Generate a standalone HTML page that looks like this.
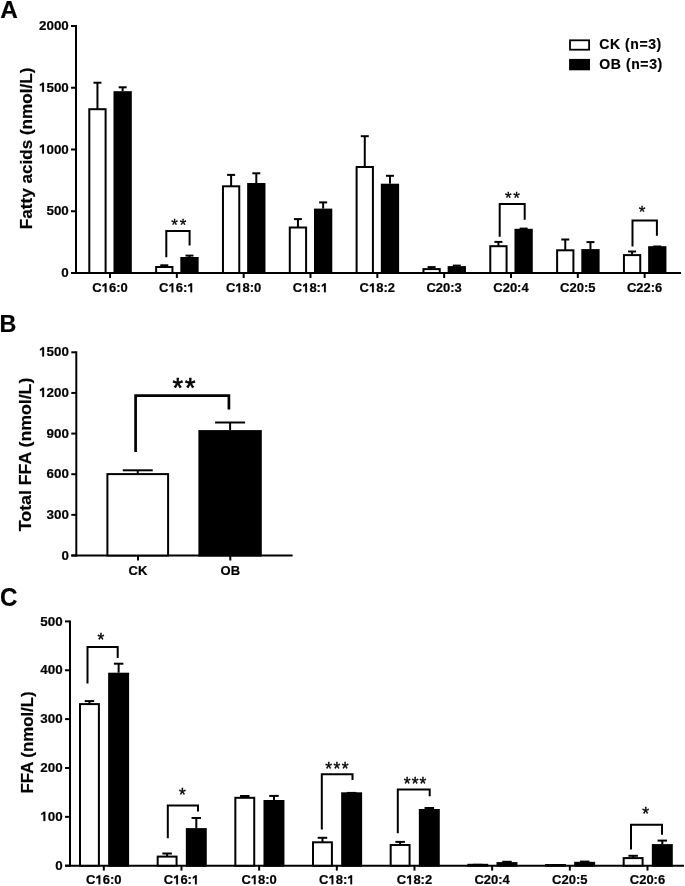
<!DOCTYPE html>
<html><head><meta charset="utf-8"><style>
html,body{margin:0;padding:0;background:#fff;}
svg{display:block;font-family:"Liberation Sans", sans-serif;will-change:transform;}
text[font-weight="bold"]{stroke:#000;stroke-width:0.2px;}
</style></head><body>
<svg width="685" height="886" viewBox="0 0 685 886">
<text transform="translate(0.2,18) scale(1.045,1)" font-size="23.3" font-weight="bold">A</text>
<line x1="76.00" y1="25.00" x2="76.00" y2="274.00" stroke="#000" stroke-width="2"/>
<line x1="71.00" y1="273.00" x2="681.00" y2="273.00" stroke="#000" stroke-width="2"/>
<line x1="71.00" y1="273.00" x2="76.00" y2="273.00" stroke="#000" stroke-width="2"/>
<text x="68.80" y="277.10" font-size="13.4" font-weight="bold" text-anchor="end" >0</text>
<line x1="71.00" y1="211.25" x2="76.00" y2="211.25" stroke="#000" stroke-width="2"/>
<text x="68.80" y="215.35" font-size="13.4" font-weight="bold" text-anchor="end" >500</text>
<line x1="71.00" y1="149.50" x2="76.00" y2="149.50" stroke="#000" stroke-width="2"/>
<text id="t0" x="68.80" y="153.60" font-size="13.4" font-weight="bold" text-anchor="end" ><tspan style="fill:none;stroke:none">1</tspan>000</text>
<path transform="translate(39.00,153.60) scale(0.006543,-0.006543)" d="M478 0L478 1080Q330 950 130 890L130 1150Q360 1230 500 1409L759 1409L759 0Z" stroke="#000" stroke-width="30.6"/>
<line x1="71.00" y1="87.75" x2="76.00" y2="87.75" stroke="#000" stroke-width="2"/>
<text id="t1" x="68.80" y="91.85" font-size="13.4" font-weight="bold" text-anchor="end" ><tspan style="fill:none;stroke:none">1</tspan>500</text>
<path transform="translate(39.00,91.85) scale(0.006543,-0.006543)" d="M478 0L478 1080Q330 950 130 890L130 1150Q360 1230 500 1409L759 1409L759 0Z" stroke="#000" stroke-width="30.6"/>
<line x1="71.00" y1="26.00" x2="76.00" y2="26.00" stroke="#000" stroke-width="2"/>
<text x="68.80" y="30.10" font-size="13.4" font-weight="bold" text-anchor="end" >2000</text>
<line x1="110.00" y1="273.00" x2="110.00" y2="278.00" stroke="#000" stroke-width="2"/>
<text id="t2" x="110.00" y="292.30" font-size="13" font-weight="bold" text-anchor="middle" >C<tspan style="fill:none;stroke:none">1</tspan>6:0</text>
<path transform="translate(101.68,292.30) scale(0.006348,-0.006348)" d="M478 0L478 1080Q330 950 130 890L130 1150Q360 1230 500 1409L759 1409L759 0Z" stroke="#000" stroke-width="31.5"/>
<line x1="176.83" y1="273.00" x2="176.83" y2="278.00" stroke="#000" stroke-width="2"/>
<text id="t3" x="176.83" y="292.30" font-size="13" font-weight="bold" text-anchor="middle" >C<tspan style="fill:none;stroke:none">1</tspan>6:<tspan style="fill:none;stroke:none">1</tspan></text>
<path transform="translate(168.51,292.30) scale(0.006348,-0.006348)" d="M478 0L478 1080Q330 950 130 890L130 1150Q360 1230 500 1409L759 1409L759 0Z" stroke="#000" stroke-width="31.5"/>
<path transform="translate(187.31,292.30) scale(0.006348,-0.006348)" d="M478 0L478 1080Q330 950 130 890L130 1150Q360 1230 500 1409L759 1409L759 0Z" stroke="#000" stroke-width="31.5"/>
<line x1="243.66" y1="273.00" x2="243.66" y2="278.00" stroke="#000" stroke-width="2"/>
<text id="t4" x="243.66" y="292.30" font-size="13" font-weight="bold" text-anchor="middle" >C<tspan style="fill:none;stroke:none">1</tspan>8:0</text>
<path transform="translate(235.34,292.30) scale(0.006348,-0.006348)" d="M478 0L478 1080Q330 950 130 890L130 1150Q360 1230 500 1409L759 1409L759 0Z" stroke="#000" stroke-width="31.5"/>
<line x1="310.49" y1="273.00" x2="310.49" y2="278.00" stroke="#000" stroke-width="2"/>
<text id="t5" x="310.49" y="292.30" font-size="13" font-weight="bold" text-anchor="middle" >C<tspan style="fill:none;stroke:none">1</tspan>8:<tspan style="fill:none;stroke:none">1</tspan></text>
<path transform="translate(302.17,292.30) scale(0.006348,-0.006348)" d="M478 0L478 1080Q330 950 130 890L130 1150Q360 1230 500 1409L759 1409L759 0Z" stroke="#000" stroke-width="31.5"/>
<path transform="translate(320.97,292.30) scale(0.006348,-0.006348)" d="M478 0L478 1080Q330 950 130 890L130 1150Q360 1230 500 1409L759 1409L759 0Z" stroke="#000" stroke-width="31.5"/>
<line x1="377.32" y1="273.00" x2="377.32" y2="278.00" stroke="#000" stroke-width="2"/>
<text id="t6" x="377.32" y="292.30" font-size="13" font-weight="bold" text-anchor="middle" >C<tspan style="fill:none;stroke:none">1</tspan>8:2</text>
<path transform="translate(369.00,292.30) scale(0.006348,-0.006348)" d="M478 0L478 1080Q330 950 130 890L130 1150Q360 1230 500 1409L759 1409L759 0Z" stroke="#000" stroke-width="31.5"/>
<line x1="444.15" y1="273.00" x2="444.15" y2="278.00" stroke="#000" stroke-width="2"/>
<text x="444.15" y="292.30" font-size="13" font-weight="bold" text-anchor="middle" >C20:3</text>
<line x1="510.98" y1="273.00" x2="510.98" y2="278.00" stroke="#000" stroke-width="2"/>
<text x="510.98" y="292.30" font-size="13" font-weight="bold" text-anchor="middle" >C20:4</text>
<line x1="577.81" y1="273.00" x2="577.81" y2="278.00" stroke="#000" stroke-width="2"/>
<text x="577.81" y="292.30" font-size="13" font-weight="bold" text-anchor="middle" >C20:5</text>
<line x1="644.64" y1="273.00" x2="644.64" y2="278.00" stroke="#000" stroke-width="2"/>
<text x="644.64" y="292.30" font-size="13" font-weight="bold" text-anchor="middle" >C22:6</text>
<line x1="97.45" y1="109.20" x2="97.45" y2="82.70" stroke="#000" stroke-width="2"/>
<line x1="93.45" y1="82.70" x2="101.45" y2="82.70" stroke="#000" stroke-width="2"/>
<line x1="122.65" y1="91.20" x2="122.65" y2="87.30" stroke="#000" stroke-width="2"/>
<line x1="118.65" y1="87.30" x2="126.65" y2="87.30" stroke="#000" stroke-width="2"/>
<rect x="89.30" y="109.20" width="16.30" height="163.80" fill="#fff" stroke="#000" stroke-width="2"/>
<rect x="113.50" y="91.20" width="18.30" height="182.80" fill="#000"/>
<line x1="164.28" y1="267.00" x2="164.28" y2="265.30" stroke="#000" stroke-width="2"/>
<line x1="160.28" y1="265.30" x2="168.28" y2="265.30" stroke="#000" stroke-width="2"/>
<line x1="189.48" y1="257.00" x2="189.48" y2="255.60" stroke="#000" stroke-width="2"/>
<line x1="185.48" y1="255.60" x2="193.48" y2="255.60" stroke="#000" stroke-width="2"/>
<rect x="156.13" y="267.00" width="16.30" height="6.00" fill="#fff" stroke="#000" stroke-width="2"/>
<rect x="180.33" y="257.00" width="18.30" height="17.00" fill="#000"/>
<line x1="231.11" y1="186.30" x2="231.11" y2="174.90" stroke="#000" stroke-width="2"/>
<line x1="227.11" y1="174.90" x2="235.11" y2="174.90" stroke="#000" stroke-width="2"/>
<line x1="256.31" y1="183.00" x2="256.31" y2="173.30" stroke="#000" stroke-width="2"/>
<line x1="252.31" y1="173.30" x2="260.31" y2="173.30" stroke="#000" stroke-width="2"/>
<rect x="222.96" y="186.30" width="16.30" height="86.70" fill="#fff" stroke="#000" stroke-width="2"/>
<rect x="247.16" y="183.00" width="18.30" height="91.00" fill="#000"/>
<line x1="297.94" y1="227.50" x2="297.94" y2="219.10" stroke="#000" stroke-width="2"/>
<line x1="293.94" y1="219.10" x2="301.94" y2="219.10" stroke="#000" stroke-width="2"/>
<line x1="323.14" y1="208.60" x2="323.14" y2="202.40" stroke="#000" stroke-width="2"/>
<line x1="319.14" y1="202.40" x2="327.14" y2="202.40" stroke="#000" stroke-width="2"/>
<rect x="289.79" y="227.50" width="16.30" height="45.50" fill="#fff" stroke="#000" stroke-width="2"/>
<rect x="313.99" y="208.60" width="18.30" height="65.40" fill="#000"/>
<line x1="364.77" y1="167.00" x2="364.77" y2="136.20" stroke="#000" stroke-width="2"/>
<line x1="360.77" y1="136.20" x2="368.77" y2="136.20" stroke="#000" stroke-width="2"/>
<line x1="389.97" y1="183.70" x2="389.97" y2="175.80" stroke="#000" stroke-width="2"/>
<line x1="385.97" y1="175.80" x2="393.97" y2="175.80" stroke="#000" stroke-width="2"/>
<rect x="356.62" y="167.00" width="16.30" height="106.00" fill="#fff" stroke="#000" stroke-width="2"/>
<rect x="380.82" y="183.70" width="18.30" height="90.30" fill="#000"/>
<line x1="431.60" y1="269.10" x2="431.60" y2="267.10" stroke="#000" stroke-width="2"/>
<line x1="427.60" y1="267.10" x2="435.60" y2="267.10" stroke="#000" stroke-width="2"/>
<line x1="452.80" y1="265.60" x2="460.80" y2="265.60" stroke="#000" stroke-width="2"/>
<rect x="423.45" y="269.10" width="16.30" height="3.90" fill="#fff" stroke="#000" stroke-width="2"/>
<rect x="447.65" y="266.10" width="18.30" height="7.90" fill="#000"/>
<line x1="498.43" y1="246.20" x2="498.43" y2="241.90" stroke="#000" stroke-width="2"/>
<line x1="494.43" y1="241.90" x2="502.43" y2="241.90" stroke="#000" stroke-width="2"/>
<line x1="519.63" y1="228.60" x2="527.63" y2="228.60" stroke="#000" stroke-width="2"/>
<rect x="490.28" y="246.20" width="16.30" height="26.80" fill="#fff" stroke="#000" stroke-width="2"/>
<rect x="514.48" y="228.80" width="18.30" height="45.20" fill="#000"/>
<line x1="565.26" y1="250.30" x2="565.26" y2="239.50" stroke="#000" stroke-width="2"/>
<line x1="561.26" y1="239.50" x2="569.26" y2="239.50" stroke="#000" stroke-width="2"/>
<line x1="590.46" y1="249.10" x2="590.46" y2="242.10" stroke="#000" stroke-width="2"/>
<line x1="586.46" y1="242.10" x2="594.46" y2="242.10" stroke="#000" stroke-width="2"/>
<rect x="557.11" y="250.30" width="16.30" height="22.70" fill="#fff" stroke="#000" stroke-width="2"/>
<rect x="581.31" y="249.10" width="18.30" height="24.90" fill="#000"/>
<line x1="632.09" y1="255.10" x2="632.09" y2="251.50" stroke="#000" stroke-width="2"/>
<line x1="628.09" y1="251.50" x2="636.09" y2="251.50" stroke="#000" stroke-width="2"/>
<line x1="653.29" y1="246.50" x2="661.29" y2="246.50" stroke="#000" stroke-width="2"/>
<rect x="623.94" y="255.10" width="16.30" height="17.90" fill="#fff" stroke="#000" stroke-width="2"/>
<rect x="648.14" y="246.20" width="18.30" height="27.80" fill="#000"/>
<polyline points="166.30,257.20 166.30,231.00 189.60,231.00 189.60,245.50" fill="none" stroke="#000" stroke-width="2"/>
<text x="174.50" y="231.16" font-size="17" font-weight="normal" text-anchor="middle" stroke="#000" stroke-width="0.3">*</text>
<text x="183.00" y="231.16" font-size="17" font-weight="normal" text-anchor="middle" stroke="#000" stroke-width="0.3">*</text>
<polyline points="499.70,236.70 499.70,203.90 524.70,203.90 524.70,219.70" fill="none" stroke="#000" stroke-width="2"/>
<text x="508.40" y="203.85" font-size="17" font-weight="normal" text-anchor="middle" stroke="#000" stroke-width="0.3">*</text>
<text x="516.60" y="203.85" font-size="17" font-weight="normal" text-anchor="middle" stroke="#000" stroke-width="0.3">*</text>
<polyline points="632.50,246.40 632.50,220.50 656.90,220.50 656.90,235.70" fill="none" stroke="#000" stroke-width="2"/>
<text x="642.00" y="218.06" font-size="17" font-weight="normal" text-anchor="middle" stroke="#000" stroke-width="0.3">*</text>
<text transform="translate(31.8,148.4) rotate(-90)" font-size="17" font-weight="bold" text-anchor="middle" textLength="161.5" lengthAdjust="spacingAndGlyphs">Fatty acids (nmol/L)</text>
<rect x="570.00" y="40.30" width="19.10" height="9.40" fill="#fff" stroke="#000" stroke-width="1.8"/>
<rect x="569.10" y="58.90" width="20.90" height="11.40" fill="#000"/>
<text x="599.20" y="49.30" font-size="14" font-weight="bold" text-anchor="start" textLength="62" lengthAdjust="spacing">CK (n=3)</text>
<text x="599.20" y="68.90" font-size="14" font-weight="bold" text-anchor="start" textLength="63" lengthAdjust="spacing">OB (n=3)</text>
<text x="-0.50" y="331.90" font-size="23.3" font-weight="bold" text-anchor="start" >B</text>
<line x1="76.30" y1="351.30" x2="76.30" y2="556.50" stroke="#000" stroke-width="2"/>
<line x1="71.30" y1="555.50" x2="292.60" y2="555.50" stroke="#000" stroke-width="2"/>
<line x1="71.30" y1="555.50" x2="76.30" y2="555.50" stroke="#000" stroke-width="2"/>
<text x="68.90" y="559.60" font-size="13.4" font-weight="bold" text-anchor="end" >0</text>
<line x1="71.30" y1="514.86" x2="76.30" y2="514.86" stroke="#000" stroke-width="2"/>
<text x="68.90" y="518.96" font-size="13.4" font-weight="bold" text-anchor="end" >300</text>
<line x1="71.30" y1="474.22" x2="76.30" y2="474.22" stroke="#000" stroke-width="2"/>
<text x="68.90" y="478.32" font-size="13.4" font-weight="bold" text-anchor="end" >600</text>
<line x1="71.30" y1="433.58" x2="76.30" y2="433.58" stroke="#000" stroke-width="2"/>
<text x="68.90" y="437.68" font-size="13.4" font-weight="bold" text-anchor="end" >900</text>
<line x1="71.30" y1="392.94" x2="76.30" y2="392.94" stroke="#000" stroke-width="2"/>
<text id="t7" x="68.90" y="397.04" font-size="13.4" font-weight="bold" text-anchor="end" ><tspan style="fill:none;stroke:none">1</tspan>200</text>
<path transform="translate(39.10,397.04) scale(0.006543,-0.006543)" d="M478 0L478 1080Q330 950 130 890L130 1150Q360 1230 500 1409L759 1409L759 0Z" stroke="#000" stroke-width="30.6"/>
<line x1="71.30" y1="352.30" x2="76.30" y2="352.30" stroke="#000" stroke-width="2"/>
<text id="t8" x="68.90" y="356.40" font-size="13.4" font-weight="bold" text-anchor="end" ><tspan style="fill:none;stroke:none">1</tspan>500</text>
<path transform="translate(39.10,356.40) scale(0.006543,-0.006543)" d="M478 0L478 1080Q330 950 130 890L130 1150Q360 1230 500 1409L759 1409L759 0Z" stroke="#000" stroke-width="30.6"/>
<line x1="138.00" y1="555.50" x2="138.00" y2="560.50" stroke="#000" stroke-width="2"/>
<text x="138.00" y="574.50" font-size="13" font-weight="bold" text-anchor="middle" >CK</text>
<line x1="230.30" y1="555.50" x2="230.30" y2="560.50" stroke="#000" stroke-width="2"/>
<text x="230.30" y="574.50" font-size="13" font-weight="bold" text-anchor="middle" >OB</text>
<line x1="137.75" y1="474.00" x2="137.75" y2="470.30" stroke="#000" stroke-width="2"/>
<line x1="122.75" y1="470.30" x2="152.75" y2="470.30" stroke="#000" stroke-width="2"/>
<line x1="230.10" y1="430.10" x2="230.10" y2="422.50" stroke="#000" stroke-width="2"/>
<line x1="215.10" y1="422.50" x2="245.10" y2="422.50" stroke="#000" stroke-width="2"/>
<rect x="107.40" y="474.10" width="60.70" height="81.40" fill="#fff" stroke="#000" stroke-width="2"/>
<rect x="198.40" y="430.10" width="63.40" height="126.40" fill="#000"/>
<polyline points="135.60,452.00 135.60,395.70 228.90,395.70 228.90,409.40" fill="none" stroke="#000" stroke-width="2.7"/>
<text x="177.75" y="396.90" font-size="27" font-weight="normal" text-anchor="middle" stroke="#000" stroke-width="0.6">*</text>
<text x="190.20" y="396.90" font-size="27" font-weight="normal" text-anchor="middle" stroke="#000" stroke-width="0.6">*</text>
<text transform="translate(31.3,454.4) rotate(-90)" font-size="17" font-weight="bold" text-anchor="middle" textLength="153.5" lengthAdjust="spacingAndGlyphs">Total FFA (nmol/L)</text>
<text transform="translate(0.1,605.6) scale(1,1.075)" font-size="24.2" font-weight="bold">C</text>
<line x1="70.00" y1="620.40" x2="70.00" y2="866.70" stroke="#000" stroke-width="2"/>
<line x1="65.00" y1="865.70" x2="684.00" y2="865.70" stroke="#000" stroke-width="2"/>
<line x1="65.00" y1="865.70" x2="70.00" y2="865.70" stroke="#000" stroke-width="2"/>
<text x="62.70" y="869.80" font-size="13.4" font-weight="bold" text-anchor="end" >0</text>
<line x1="65.00" y1="816.84" x2="70.00" y2="816.84" stroke="#000" stroke-width="2"/>
<text id="t9" x="62.70" y="820.94" font-size="13.4" font-weight="bold" text-anchor="end" ><tspan style="fill:none;stroke:none">1</tspan>00</text>
<path transform="translate(40.34,820.94) scale(0.006543,-0.006543)" d="M478 0L478 1080Q330 950 130 890L130 1150Q360 1230 500 1409L759 1409L759 0Z" stroke="#000" stroke-width="30.6"/>
<line x1="65.00" y1="767.98" x2="70.00" y2="767.98" stroke="#000" stroke-width="2"/>
<text x="62.70" y="772.08" font-size="13.4" font-weight="bold" text-anchor="end" >200</text>
<line x1="65.00" y1="719.12" x2="70.00" y2="719.12" stroke="#000" stroke-width="2"/>
<text x="62.70" y="723.22" font-size="13.4" font-weight="bold" text-anchor="end" >300</text>
<line x1="65.00" y1="670.26" x2="70.00" y2="670.26" stroke="#000" stroke-width="2"/>
<text x="62.70" y="674.36" font-size="13.4" font-weight="bold" text-anchor="end" >400</text>
<line x1="65.00" y1="621.40" x2="70.00" y2="621.40" stroke="#000" stroke-width="2"/>
<text x="62.70" y="625.50" font-size="13.4" font-weight="bold" text-anchor="end" >500</text>
<line x1="103.80" y1="865.70" x2="103.80" y2="870.60" stroke="#000" stroke-width="2"/>
<text id="t10" x="103.80" y="884.30" font-size="13" font-weight="bold" text-anchor="middle" >C<tspan style="fill:none;stroke:none">1</tspan>6:0</text>
<path transform="translate(95.48,884.30) scale(0.006348,-0.006348)" d="M478 0L478 1080Q330 950 130 890L130 1150Q360 1230 500 1409L759 1409L759 0Z" stroke="#000" stroke-width="31.5"/>
<line x1="181.47" y1="865.70" x2="181.47" y2="870.60" stroke="#000" stroke-width="2"/>
<text id="t11" x="181.47" y="884.30" font-size="13" font-weight="bold" text-anchor="middle" >C<tspan style="fill:none;stroke:none">1</tspan>6:<tspan style="fill:none;stroke:none">1</tspan></text>
<path transform="translate(173.15,884.30) scale(0.006348,-0.006348)" d="M478 0L478 1080Q330 950 130 890L130 1150Q360 1230 500 1409L759 1409L759 0Z" stroke="#000" stroke-width="31.5"/>
<path transform="translate(191.95,884.30) scale(0.006348,-0.006348)" d="M478 0L478 1080Q330 950 130 890L130 1150Q360 1230 500 1409L759 1409L759 0Z" stroke="#000" stroke-width="31.5"/>
<line x1="259.14" y1="865.70" x2="259.14" y2="870.60" stroke="#000" stroke-width="2"/>
<text id="t12" x="259.14" y="884.30" font-size="13" font-weight="bold" text-anchor="middle" >C<tspan style="fill:none;stroke:none">1</tspan>8:0</text>
<path transform="translate(250.82,884.30) scale(0.006348,-0.006348)" d="M478 0L478 1080Q330 950 130 890L130 1150Q360 1230 500 1409L759 1409L759 0Z" stroke="#000" stroke-width="31.5"/>
<line x1="336.81" y1="865.70" x2="336.81" y2="870.60" stroke="#000" stroke-width="2"/>
<text id="t13" x="336.81" y="884.30" font-size="13" font-weight="bold" text-anchor="middle" >C<tspan style="fill:none;stroke:none">1</tspan>8:<tspan style="fill:none;stroke:none">1</tspan></text>
<path transform="translate(328.49,884.30) scale(0.006348,-0.006348)" d="M478 0L478 1080Q330 950 130 890L130 1150Q360 1230 500 1409L759 1409L759 0Z" stroke="#000" stroke-width="31.5"/>
<path transform="translate(347.29,884.30) scale(0.006348,-0.006348)" d="M478 0L478 1080Q330 950 130 890L130 1150Q360 1230 500 1409L759 1409L759 0Z" stroke="#000" stroke-width="31.5"/>
<line x1="414.48" y1="865.70" x2="414.48" y2="870.60" stroke="#000" stroke-width="2"/>
<text id="t14" x="414.48" y="884.30" font-size="13" font-weight="bold" text-anchor="middle" >C<tspan style="fill:none;stroke:none">1</tspan>8:2</text>
<path transform="translate(406.16,884.30) scale(0.006348,-0.006348)" d="M478 0L478 1080Q330 950 130 890L130 1150Q360 1230 500 1409L759 1409L759 0Z" stroke="#000" stroke-width="31.5"/>
<line x1="492.15" y1="865.70" x2="492.15" y2="870.60" stroke="#000" stroke-width="2"/>
<text x="492.15" y="884.30" font-size="13" font-weight="bold" text-anchor="middle" >C20:4</text>
<line x1="569.82" y1="865.70" x2="569.82" y2="870.60" stroke="#000" stroke-width="2"/>
<text x="569.82" y="884.30" font-size="13" font-weight="bold" text-anchor="middle" >C20:5</text>
<line x1="647.49" y1="865.70" x2="647.49" y2="870.60" stroke="#000" stroke-width="2"/>
<text x="647.49" y="884.30" font-size="13" font-weight="bold" text-anchor="middle" >C20:6</text>
<line x1="89.45" y1="704.10" x2="89.45" y2="701.10" stroke="#000" stroke-width="2"/>
<line x1="84.70" y1="701.10" x2="94.20" y2="701.10" stroke="#000" stroke-width="2"/>
<line x1="118.62" y1="672.70" x2="118.62" y2="663.70" stroke="#000" stroke-width="2"/>
<line x1="113.88" y1="663.70" x2="123.38" y2="663.70" stroke="#000" stroke-width="2"/>
<rect x="80.00" y="704.10" width="18.90" height="161.60" fill="#fff" stroke="#000" stroke-width="2"/>
<rect x="108.15" y="672.70" width="20.95" height="194.00" fill="#000"/>
<line x1="167.12" y1="856.60" x2="167.12" y2="853.50" stroke="#000" stroke-width="2"/>
<line x1="162.37" y1="853.50" x2="171.87" y2="853.50" stroke="#000" stroke-width="2"/>
<line x1="196.30" y1="828.10" x2="196.30" y2="818.00" stroke="#000" stroke-width="2"/>
<line x1="191.55" y1="818.00" x2="201.05" y2="818.00" stroke="#000" stroke-width="2"/>
<rect x="157.67" y="856.60" width="18.90" height="9.10" fill="#fff" stroke="#000" stroke-width="2"/>
<rect x="185.82" y="828.10" width="20.95" height="38.60" fill="#000"/>
<line x1="244.79" y1="797.80" x2="244.79" y2="796.00" stroke="#000" stroke-width="2"/>
<line x1="240.04" y1="796.00" x2="249.54" y2="796.00" stroke="#000" stroke-width="2"/>
<line x1="273.97" y1="800.00" x2="273.97" y2="795.90" stroke="#000" stroke-width="2"/>
<line x1="269.22" y1="795.90" x2="278.72" y2="795.90" stroke="#000" stroke-width="2"/>
<rect x="235.34" y="797.80" width="18.90" height="67.90" fill="#fff" stroke="#000" stroke-width="2"/>
<rect x="263.49" y="800.00" width="20.95" height="66.70" fill="#000"/>
<line x1="322.46" y1="842.30" x2="322.46" y2="837.80" stroke="#000" stroke-width="2"/>
<line x1="317.71" y1="837.80" x2="327.21" y2="837.80" stroke="#000" stroke-width="2"/>
<line x1="346.88" y1="792.90" x2="356.38" y2="792.90" stroke="#000" stroke-width="2"/>
<rect x="313.01" y="842.30" width="18.90" height="23.40" fill="#fff" stroke="#000" stroke-width="2"/>
<rect x="341.16" y="792.30" width="20.95" height="74.40" fill="#000"/>
<line x1="400.13" y1="845.00" x2="400.13" y2="841.90" stroke="#000" stroke-width="2"/>
<line x1="395.38" y1="841.90" x2="404.88" y2="841.90" stroke="#000" stroke-width="2"/>
<line x1="429.31" y1="809.00" x2="429.31" y2="808.00" stroke="#000" stroke-width="2"/>
<line x1="424.56" y1="808.00" x2="434.06" y2="808.00" stroke="#000" stroke-width="2"/>
<rect x="390.68" y="845.00" width="18.90" height="20.70" fill="#fff" stroke="#000" stroke-width="2"/>
<rect x="418.83" y="809.00" width="20.95" height="57.70" fill="#000"/>
<line x1="473.05" y1="864.80" x2="482.55" y2="864.80" stroke="#000" stroke-width="2"/>
<line x1="502.23" y1="861.80" x2="511.73" y2="861.80" stroke="#000" stroke-width="2"/>
<rect x="468.35" y="864.80" width="18.90" height="0.90" fill="#fff" stroke="#000" stroke-width="2"/>
<rect x="496.50" y="862.10" width="20.95" height="4.60" fill="#000"/>
<line x1="550.72" y1="865.00" x2="560.22" y2="865.00" stroke="#000" stroke-width="2"/>
<line x1="579.89" y1="861.60" x2="589.39" y2="861.60" stroke="#000" stroke-width="2"/>
<rect x="546.02" y="865.00" width="18.90" height="0.70" fill="#fff" stroke="#000" stroke-width="2"/>
<rect x="574.17" y="861.80" width="20.95" height="4.90" fill="#000"/>
<line x1="633.14" y1="858.10" x2="633.14" y2="855.80" stroke="#000" stroke-width="2"/>
<line x1="628.39" y1="855.80" x2="637.89" y2="855.80" stroke="#000" stroke-width="2"/>
<line x1="662.32" y1="844.10" x2="662.32" y2="840.60" stroke="#000" stroke-width="2"/>
<line x1="657.57" y1="840.60" x2="667.07" y2="840.60" stroke="#000" stroke-width="2"/>
<rect x="623.69" y="858.10" width="18.90" height="7.60" fill="#fff" stroke="#000" stroke-width="2"/>
<rect x="651.84" y="844.10" width="20.95" height="22.60" fill="#000"/>
<polyline points="87.50,683.40 87.50,646.90 117.70,646.90 117.70,658.00" fill="none" stroke="#000" stroke-width="2"/>
<text x="100.90" y="645.51" font-size="17.5" font-weight="normal" text-anchor="middle" stroke="#000" stroke-width="0.4">*</text>
<polyline points="167.80,838.30 167.80,805.60 198.00,805.60 198.00,811.50" fill="none" stroke="#000" stroke-width="2"/>
<text x="182.50" y="800.91" font-size="17.5" font-weight="normal" text-anchor="middle" stroke="#000" stroke-width="0.4">*</text>
<polyline points="321.80,829.50 321.80,774.30 352.50,774.30 352.50,780.10" fill="none" stroke="#000" stroke-width="2"/>
<text x="328.70" y="775.11" font-size="17.5" font-weight="normal" text-anchor="middle" stroke="#000" stroke-width="0.4">*</text>
<text x="336.90" y="775.11" font-size="17.5" font-weight="normal" text-anchor="middle" stroke="#000" stroke-width="0.4">*</text>
<text x="345.10" y="775.11" font-size="17.5" font-weight="normal" text-anchor="middle" stroke="#000" stroke-width="0.4">*</text>
<polyline points="397.80,833.20 397.80,789.40 429.70,789.40 429.70,796.30" fill="none" stroke="#000" stroke-width="2"/>
<text x="407.20" y="790.31" font-size="17.5" font-weight="normal" text-anchor="middle" stroke="#000" stroke-width="0.4">*</text>
<text x="415.10" y="790.31" font-size="17.5" font-weight="normal" text-anchor="middle" stroke="#000" stroke-width="0.4">*</text>
<text x="423.00" y="790.31" font-size="17.5" font-weight="normal" text-anchor="middle" stroke="#000" stroke-width="0.4">*</text>
<polyline points="631.00,849.60 631.00,824.70 662.00,824.70 662.00,834.70" fill="none" stroke="#000" stroke-width="2"/>
<text x="645.70" y="820.31" font-size="17.5" font-weight="normal" text-anchor="middle" stroke="#000" stroke-width="0.4">*</text>
<text transform="translate(32.8,742.4) rotate(-90)" font-size="17" font-weight="bold" text-anchor="middle" textLength="102" lengthAdjust="spacingAndGlyphs">FFA (nmol/L)</text>
</svg>
</body></html>
